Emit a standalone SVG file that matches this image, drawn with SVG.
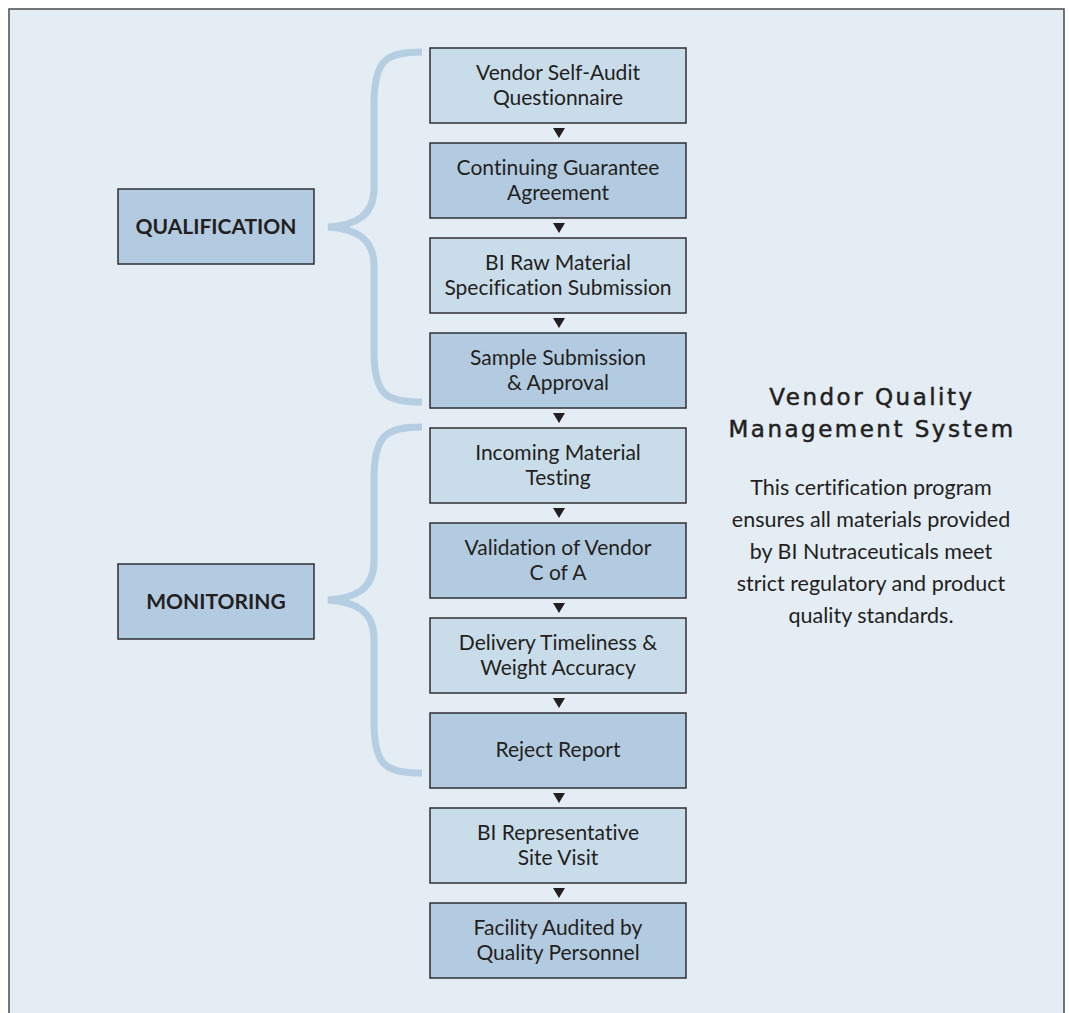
<svg xmlns="http://www.w3.org/2000/svg" width="1069" height="1013" viewBox="0 0 1069 1013">
<style>
.step{stroke:#2f2f33;stroke-width:1.5}
.l{fill:#c9dce9}
.d{fill:#b3cbe0}
.t{font-family:Lato,"Noto Sans",sans-serif;font-size:21px;fill:#231f20;text-anchor:middle;font-variant-ligatures:none}
.lab{font-family:Lato,"Noto Sans",sans-serif;font-size:21px;font-weight:bold;fill:#231f20;text-anchor:middle}
.brace{fill:none;stroke:#b5cee2;stroke-width:7}
.arr{fill:#231f20}
.title{font-family:"DejaVu Sans",sans-serif;font-size:23px;fill:#231f20;stroke:#231f20;stroke-width:0.5;text-anchor:middle;letter-spacing:2.5px}
.body{font-family:Lato,"Noto Sans",sans-serif;font-size:21.5px;fill:#231f20;text-anchor:middle;font-variant-ligatures:none}
</style>
<defs>
<polygon id="tri" points="-6,0 6,0 0,10"/>
</defs>
<rect x="0" y="0" width="1069" height="1013" fill="#ffffff"/>
<rect x="9" y="9" width="1055" height="1010" fill="#e4ecf4" stroke="#4a4a4e" stroke-width="1.5"/>

<g id="connectors">
<path class="brace" d="M422 52 C386 52 375 60 374 100 L374 190 C373 216 356 225 328 227 C356 229 373 238 374 264 L374 355 C375 395 386 402 422 402"/>
<path class="brace" d="M422 427 C386 427 375 435 374 475 L374 563 C373 589 356 598 328 600 C356 602 373 611 374 637 L374 726 C375 766 386 773 422 773"/>
<use href="#tri" class="arr" x="559" y="128"/>
<use href="#tri" class="arr" x="559" y="223"/>
<use href="#tri" class="arr" x="559" y="318"/>
<use href="#tri" class="arr" x="559" y="413"/>
<use href="#tri" class="arr" x="559" y="508"/>
<use href="#tri" class="arr" x="559" y="603"/>
<use href="#tri" class="arr" x="559" y="698"/>
<use href="#tri" class="arr" x="559" y="793"/>
<use href="#tri" class="arr" x="559" y="888"/>
</g>

<g id="qualification">
<rect class="step d" x="118" y="189" width="196" height="75"/>
<text class="lab" x="216" y="234">QUALIFICATION</text>
</g>
<g id="monitoring">
<rect class="step d" x="118" y="564" width="196" height="75"/>
<text class="lab" x="216" y="609">MONITORING</text>
</g>

<g id="step1">
<rect class="step l" x="430" y="48" width="256" height="75"/>
<text class="t" x="558" y="80">Vendor Self-Audit</text>
<text class="t" x="558" y="105">Questionnaire</text>
</g>
<g id="step2">
<rect class="step d" x="430" y="143" width="256" height="75"/>
<text class="t" x="558" y="175">Continuing Guarantee</text>
<text class="t" x="558" y="200">Agreement</text>
</g>
<g id="step3">
<rect class="step l" x="430" y="238" width="256" height="75"/>
<text class="t" x="558" y="270">BI Raw Material</text>
<text class="t" x="558" y="295">Specification Submission</text>
</g>
<g id="step4">
<rect class="step d" x="430" y="333" width="256" height="75"/>
<text class="t" x="558" y="365">Sample Submission</text>
<text class="t" x="558" y="390">&amp; Approval</text>
</g>
<g id="step5">
<rect class="step l" x="430" y="428" width="256" height="75"/>
<text class="t" x="558" y="460">Incoming Material</text>
<text class="t" x="558" y="485">Testing</text>
</g>
<g id="step6">
<rect class="step d" x="430" y="523" width="256" height="75"/>
<text class="t" x="558" y="555">Validation of Vendor</text>
<text class="t" x="558" y="580">C of A</text>
</g>
<g id="step7">
<rect class="step l" x="430" y="618" width="256" height="75"/>
<text class="t" x="558" y="650">Delivery Timeliness &amp;</text>
<text class="t" x="558" y="675">Weight Accuracy</text>
</g>
<g id="step8">
<rect class="step d" x="430" y="713" width="256" height="75"/>
<text class="t" x="558" y="757">Reject Report</text>
</g>
<g id="step9">
<rect class="step l" x="430" y="808" width="256" height="75"/>
<text class="t" x="558" y="840">BI Representative</text>
<text class="t" x="558" y="865">Site Visit</text>
</g>
<g id="step10">
<rect class="step d" x="430" y="903" width="256" height="75"/>
<text class="t" x="558" y="935">Facility Audited by</text>
<text class="t" x="558" y="960">Quality Personnel</text>
</g>

<g id="description">
<text class="title" x="872" y="405">Vendor Quality</text>
<text class="title" x="872" y="437">Management System</text>
<text class="body" x="871" y="495">This certification program</text>
<text class="body" x="871" y="527">ensures all materials provided</text>
<text class="body" x="871" y="559">by BI Nutraceuticals meet</text>
<text class="body" x="871" y="591">strict regulatory and product</text>
<text class="body" x="871" y="623">quality standards.</text>
</g>
</svg>
